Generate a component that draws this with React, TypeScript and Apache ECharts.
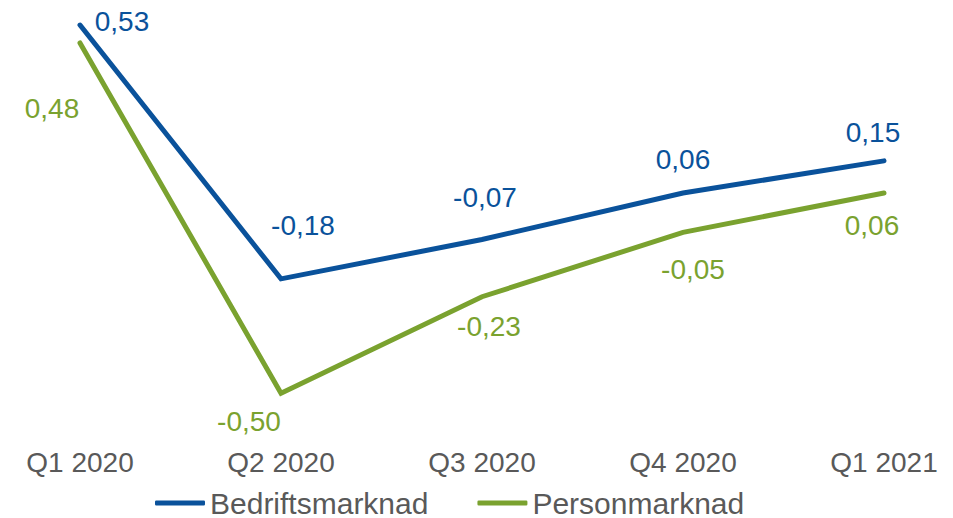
import React, { useEffect, useRef } from "react";
import * as echarts from "echarts";

const categories = ["Q1 2020", "Q2 2020", "Q3 2020", "Q4 2020", "Q1 2021"];
const bedrift = [0.53, -0.18, -0.07, 0.06, 0.15];
const person = [0.48, -0.5, -0.23, -0.05, 0.06];
const seriesNames = ["Bedriftsmarknad", "Personmarknad"];

// label offsets (styling only)
const bedriftOffsets = [[42, -4], [22, -53], [3, -42], [0, -34], [-11, -28]];
const personOffsets = [[-28, 66], [-32, 28], [7, 30], [10, 37], [-12, 32]];

const BLUE = "#0A529B";
const GREEN = "#7AA22F";
const FONT = "'Liberation Sans', Arial, sans-serif";

const fmt = (v: number) => v.toFixed(2).replace(".", ",");

function buildData(values: number[], offsets: number[][]) {
  return values.map((v, i) => ({
    value: v,
    label: { offset: offsets[i] },
  }));
}

export default function App() {
  const ref = useRef<HTMLDivElement>(null);
  useEffect(() => {
    if (!ref.current) return;
    const chart = echarts.init(ref.current, undefined, { renderer: "svg" });
    const mkSeries = (name: string, values: number[], offsets: number[][], color: string) => ({
      name,
      type: "line",
      data: buildData(values, offsets),
      symbol: "circle",
      symbolSize: 2,
      showSymbol: true,
      itemStyle: { color: "rgba(0,0,0,0)" },
      lineStyle: { color, width: 5, cap: "round", join: "miter" },
      label: {
        show: true,
        position: "inside",
        color,
        fontSize: 28,
        fontFamily: FONT,
        formatter: (p: any) => fmt(p.value),
      },
      emphasis: { disabled: true },
    });
    chart.setOption({
      animation: false,
      textStyle: { fontFamily: FONT },
      grid: { left: 80, right: 69, top: 0, bottom: 89 },
      legend: {
        left: 155,
        top: 488,
        padding: 0,
        itemWidth: 50,
        itemHeight: 5,
        itemGap: 49,
        icon: "roundRect",
        textStyle: { color: "#595959", fontSize: 30, lineHeight: 28, fontFamily: FONT },
        data: [
          { name: seriesNames[0], itemStyle: { color: BLUE } },
          { name: seriesNames[1], itemStyle: { color: GREEN } },
        ],
      },
      xAxis: {
        type: "category",
        data: categories,
        boundaryGap: false,
        axisLine: { show: false },
        axisTick: { show: false },
        axisLabel: { color: "#595959", fontSize: 28, fontFamily: FONT, margin: 19 },
        splitLine: { show: false },
      },
      yAxis: {
        type: "value",
        min: -0.6,
        max: 0.6,
        show: false,
        splitLine: { show: false },
      },
      series: [
        mkSeries(seriesNames[0], bedrift, bedriftOffsets, BLUE),
        mkSeries(seriesNames[1], person, personOffsets, GREEN),
      ],
    });
    return () => chart.dispose();
  }, []);
  return (
    <div
      ref={ref}
      style={{ position: "fixed", left: 0, top: 0, width: 953, height: 518, background: "#fff" }}
    />
  );
}
